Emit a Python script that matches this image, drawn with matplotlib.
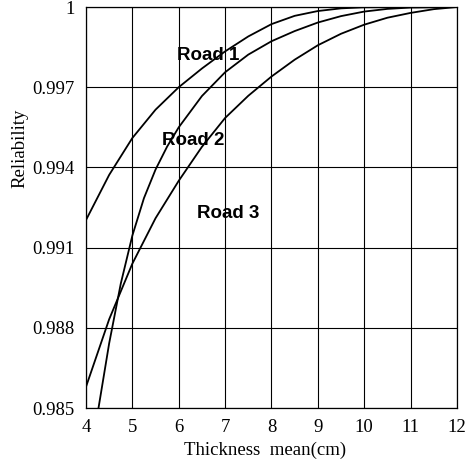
import matplotlib
matplotlib.use("Agg")
import matplotlib.pyplot as plt

# values
road1_x = [4, 4.5, 5, 5.5, 6, 6.5, 7, 7.5, 8, 8.5, 9, 9.5, 10, 11, 12]
road1_y = [0.99203, 0.99372, 0.99510, 0.99616, 0.99700, 0.99770, 0.99834,
           0.99890, 0.99936, 0.99967, 0.99985, 0.99995, 0.99999, 1.0, 1.0]

road2_x = [4.27, 4.5, 4.75, 5, 5.25, 5.5, 5.75, 6, 6.5, 7, 7.5, 8, 8.5, 9,
           9.5, 10, 10.5, 11, 12]
road2_y = [0.98500, 0.98742, 0.98965, 0.99145, 0.99285, 0.99392, 0.99478,
           0.99550, 0.99667, 0.99756, 0.99822, 0.99872, 0.99910, 0.99942,
           0.99966, 0.99983, 0.99993, 0.99998, 1.0]

road3_x = [4, 4.5, 5, 5.5, 6, 6.5, 7, 7.5, 8, 8.5, 9, 9.5, 10, 10.5, 11, 11.5, 12]
road3_y = [0.98579, 0.98832, 0.99040, 0.99210, 0.99350, 0.99477, 0.99585,
           0.99668, 0.99740, 0.99803, 0.99857, 0.99900, 0.99934, 0.99960,
           0.99978, 0.99992, 1.0]

labels = ["Road 1", "Road 2", "Road 3"]
label_pos = [(5.96, 0.99820), (5.64, 0.99502), (6.39, 0.99229)]

xticks = [4, 5, 6, 7, 8, 9, 10, 11, 12]
yticks = [0.985, 0.988, 0.991, 0.994, 0.997, 1.0]
ytick_labels = ["0.985", "0.988", "0.991", "0.994", "0.997", "1"]

fig = plt.figure(figsize=(4.66, 4.74), dpi=100)
ax = fig.add_axes([0.1845, 0.1392, 0.7962, 0.846])

for xs, ys in [(road1_x, road1_y), (road2_x, road2_y), (road3_x, road3_y)]:
    ax.plot(xs, ys, color="black", lw=1.3)

for name, (tx, ty) in zip(labels, label_pos):
    ax.text(tx, ty, name, ha="left", va="center", fontsize=13.5,
            fontweight="bold", family="Liberation Sans")

ax.set_xlim(4, 12)
ax.set_ylim(0.985, 1.0)
ax.set_xticks(xticks)
ax.set_yticks(yticks)
ax.set_yticklabels(ytick_labels)
ax.grid(True, color="black", lw=0.8)
ax.tick_params(length=0, labelsize=13.5, pad=8)
for lab in ax.get_xticklabels() + ax.get_yticklabels():
    lab.set_family("Liberation Serif")
for sp in ax.spines.values():
    sp.set_linewidth(0.9)

ax.set_xlabel("Thickness  mean(cm)", family="Liberation Serif", fontsize=13.5)
ax.xaxis.label.set_va("center")
ax.xaxis.set_label_coords(0.482, -0.105)
ax.set_ylabel("Reliability", family="Liberation Serif", fontsize=13.5)
ax.yaxis.set_label_coords(-0.156, 0.648)

fig.savefig("out.png", dpi=100)
